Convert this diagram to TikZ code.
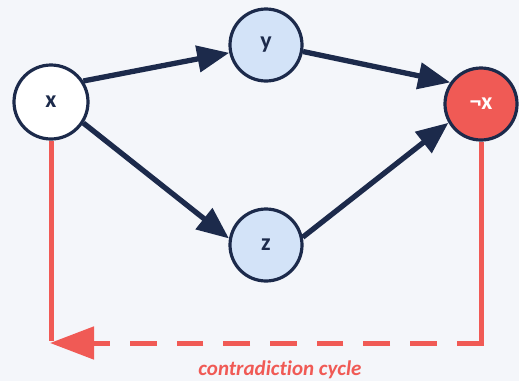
\documentclass[tikz,border=0pt]{standalone}
\usepackage{fontspec}
\setmainfont[Ligatures=NoCommon]{Carlito}
\usetikzlibrary{arrows.meta}

\definecolor{bgc}{HTML}{F4F6FA}
\definecolor{navy}{HTML}{1C2A4B}
\definecolor{paleblue}{HTML}{D3E3F8}
\definecolor{alert}{HTML}{F05A55}

\tikzset{
  vertex/.style={circle, draw=navy, line width=3.2pt, minimum size=72pt,
    inner sep=0pt, font=\fontsize{24}{26}\selectfont\bfseries, text=navy},
  plainv/.style={vertex, fill=white},
  midv/.style={vertex, fill=paleblue},
  badv/.style={vertex, fill=alert, text=white},
  edge/.style={draw=navy, line width=5.3pt,
    -{Triangle[length=32pt, width=26pt]}},
  loopline/.style={draw=alert, line width=5pt},
  looparrow/.style={loopline, dash pattern=on 26.7pt off 20pt,
    -{Triangle[length=44pt, width=32pt]}},
}

\begin{document}
\begin{tikzpicture}[x=1pt, y=-1pt]
  \fill[bgc] (0,0) rectangle (519,381);
  \useasboundingbox (0,0) rectangle (519,381);

  % the four propositions
  \node[plainv, minimum size=74pt] (x) at (51,102) {x};
  \node[midv]  (y)  at (266,45)  {y};
  \node[midv]  (z)  at (266,245) {z};
  \node[badv]  (nx) at (481,104) {¬x};

  % implications
  \draw[edge] (x.33)   -- (y.192);
  \draw[edge] (y.-10)  -- (nx.145);
  \draw[edge] (x.-33)  -- (z.170);
  \draw[edge] (z.12)   -- (nx.210);

  % the loop back to x
  \coordinate (cl) at (51,343);
  \coordinate (cr) at (nx.south |- cl);
  \draw[loopline] (x.south) -- ([yshift=2.5pt]cl);
  \draw[loopline] (nx.south) -- ([yshift=2.5pt]cr);
  \draw[looparrow] ([xshift=2.5pt]cr) -- ([xshift=-1pt]cl);

  \node[font=\fontsize{21}{23}\selectfont\bfseries\itshape, text=alert]
    (lbl) at (280,370) {contradiction cycle};
\end{tikzpicture}
\end{document}
